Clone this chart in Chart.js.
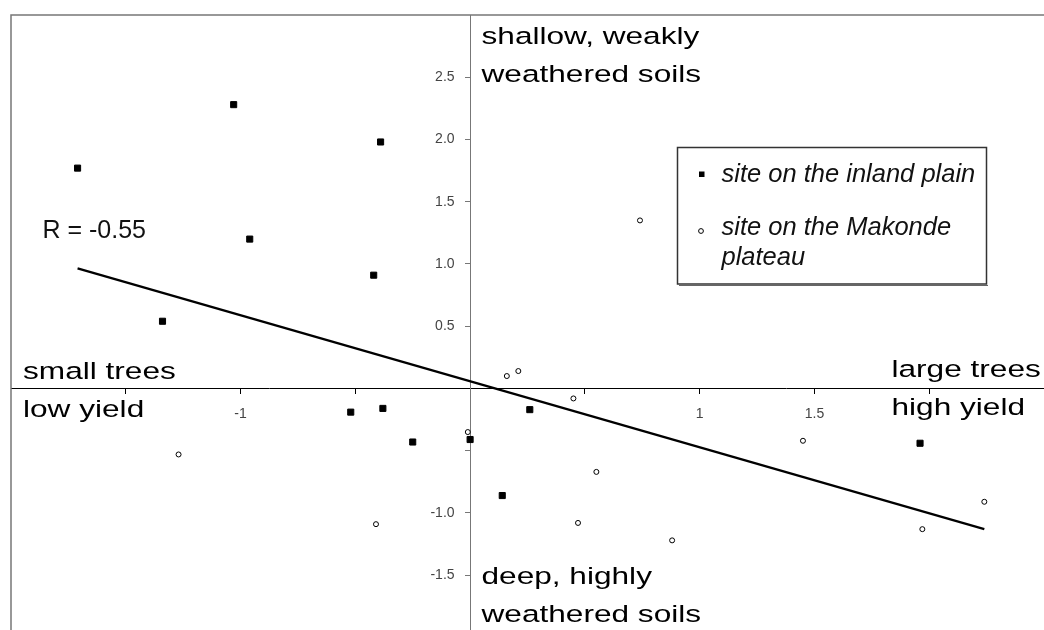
<!DOCTYPE html>
<html>
<head>
<meta charset="utf-8">
<script src="https://cdn.jsdelivr.net/npm/chart.js@4/dist/chart.umd.min.js"></script>
<style>
  html, body { margin: 0; padding: 0; background: #fff; }
  canvas { display: block; }
</style>
</head>
<body>
<canvas id="chart" width="1044" height="630"></canvas>
<script>
"use strict";

// sites on the inland plain (filled squares)
const inlandX = [-1.71, -1.03, -0.39, -0.96, -0.42, -1.34, -0.52, -0.38, -0.25, 0.00, 0.14, 0.26, 1.96];
const inlandY = [1.77, 2.28, 1.98, 1.20, 0.91, 0.54, -0.19, -0.16, -0.43, -0.41, -0.86, -0.17, -0.44];

// sites on the Makonde plateau (open circles)
const makondeX = [-1.27, -0.41, -0.01, 0.16, 0.21, 0.45, 0.55, 0.47, 0.88, 0.74, 1.45, 1.97, 2.24];
const makondeY = [-0.53, -1.09, -0.35, 0.10, 0.14, -0.08, -0.67, -1.08, -1.22, 1.35, -0.42, -1.13, -0.91];

// regression line, start and end
const trendX = [-1.71, 2.24];
const trendY = [0.965, -1.13];

// legend texts (one entry per series, split in lines)
const seriesNames = [['site on the inland plain'], ['site on the Makonde', 'plateau']];

// axis ticks and the labels that are shown
const xTickValues = [-2, -1.5, -1, -0.5, 0, 0.5, 1, 1.5, 2, 2.5];
const xTickLabels = [null, '', '-1', '', '', '', '1', '1.5', '', null];
const yTickValues = [-1.94, -1.5, -1, -0.5, 0, 0.5, 1, 1.5, 2, 2.5, 3];
const yTickLabels = [null, '-1.5', '-1.0', '', '', '0.5', '1.0', '1.5', '2.0', '2.5', null];

function toPoints(xs, ys) {
	return xs.map((x, i) => ({ x: x, y: ys[i] }));
}

// axes sit inside the plot, so they must not eat space for their labels
function noPadding(scale) {
	scale.paddingTop = 0;
	scale.paddingBottom = 0;
	scale.paddingLeft = 0;
	scale.paddingRight = 0;
}

// frame, captions, R value and the boxed legend
const decorations = {
	id: 'decorations',
	afterDraw(chart) {
		const ctx = chart.ctx;
		const area = chart.chartArea;
		ctx.save();

		// only the left and top edges of the frame are in the picture
		ctx.strokeStyle = '#777';
		ctx.lineWidth = 1.5;
		ctx.beginPath();
		ctx.moveTo(area.left, area.bottom);
		ctx.lineTo(area.left, area.top);
		ctx.lineTo(area.right, area.top);
		ctx.stroke();

		// captions of the four directions (stretched wide like the original)
		ctx.fillStyle = '#000';
		ctx.textBaseline = 'alphabetic';
		ctx.textAlign = 'left';
		ctx.font = '24.5px "Liberation Sans", Arial, sans-serif';
		const wide = (lines, x, y) => {
			lines.forEach((t, i) => {
				ctx.save();
				ctx.translate(x, y + i * 38);
				ctx.scale(1.29, 1);
				ctx.fillText(t, 0, 0);
				ctx.restore();
			});
		};
		wide(['shallow, weakly', 'weathered soils'], 481.5, 44);
		wide(['small trees', 'low yield'], 23, 379);
		wide(['large trees', 'high yield'], 891.5, 377);
		wide(['deep, highly', 'weathered soils'], 481.5, 583.5);

		ctx.fillStyle = '#111';
		ctx.font = '25px "Liberation Sans", Arial, sans-serif';
		ctx.fillText('R = -0.55', 42.5, 238);

		// legend box with its slight shadow
		ctx.strokeStyle = '#333';
		ctx.lineWidth = 1.5;
		ctx.strokeRect(677.5, 147.5, 309, 136.5);
		ctx.strokeStyle = '#666';
		ctx.lineWidth = 1;
		ctx.beginPath();
		ctx.moveTo(679, 285.5);
		ctx.lineTo(988, 285.5);
		ctx.stroke();
		ctx.fillStyle = '#000';
		ctx.fillRect(699, 171.5, 5.5, 5.5);
		ctx.strokeStyle = '#000';
		ctx.beginPath();
		ctx.arc(701, 231, 2.4, 0, Math.PI * 2);
		ctx.stroke();

		ctx.fillStyle = '#111';
		ctx.font = 'italic 25.5px "Liberation Sans", Arial, sans-serif';
		ctx.fillText(seriesNames[0][0], 721.5, 181.5);
		ctx.fillText(seriesNames[1][0], 721.5, 235);
		ctx.fillText(seriesNames[1][1], 721.5, 265);

		ctx.restore();
	}
};

const tickFont = { family: '"Liberation Sans", Arial, sans-serif', size: 14 };

new Chart(document.getElementById('chart').getContext('2d'), {
	type: 'scatter',
	data: {
		datasets: [
			{
				label: seriesNames[0].join(' '),
				data: toPoints(inlandX, inlandY),
				pointStyle: 'rect',
				pointRadius: 4.3,
				borderWidth: 1,
				backgroundColor: '#000',
				borderColor: '#000'
			},
			{
				label: seriesNames[1].join(' '),
				data: toPoints(makondeX, makondeY),
				pointStyle: 'circle',
				pointRadius: 2.5,
				borderWidth: 1,
				backgroundColor: '#fff',
				borderColor: '#000'
			},
			{
				type: 'line',
				label: 'R = -0.55',
				data: toPoints(trendX, trendY),
				borderColor: '#000',
				borderWidth: 2.2,
				pointRadius: 0,
				fill: false
			}
		]
	},
	options: {
		responsive: false,
		animation: false,
		devicePixelRatio: 1,
		layout: { autoPadding: false, padding: { left: 11, top: 15, right: 0, bottom: 0 } },
		plugins: {
			legend: { display: false },
			tooltip: { enabled: false }
		},
		scales: {
			x: {
				type: 'linear',
				min: -2,
				max: 2.5,
				position: { y: 0 },
				afterBuildTicks: (scale) => { scale.ticks = xTickValues.map(v => ({ value: v })); },
				afterFit: noPadding,
				ticks: {
					autoSkip: false,
					maxRotation: 0,
					callback: (v, i) => xTickLabels[i],
					font: tickFont,
					color: '#444',
					padding: 12
				},
				grid: { drawOnChartArea: false, tickLength: 5, color: '#000' },
				border: { color: '#000', width: 1 }
			},
			y: {
				type: 'linear',
				min: -1.94,
				max: 3,
				position: { x: 0 },
				afterBuildTicks: (scale) => { scale.ticks = yTickValues.map(v => ({ value: v })); },
				afterFit: noPadding,
				ticks: {
					autoSkip: false,
					// labels are right-aligned on the axis line; trailing spaces keep them off it
					callback: (v, i) => yTickLabels[i] === null ? null : yTickLabels[i] + '    ',
					font: tickFont,
					color: '#444'
				},
				grid: { drawOnChartArea: false, tickLength: 5, color: '#777' },
				border: { color: '#777', width: 1 }
			}
		}
	},
	plugins: [decorations]
});
</script>
</body>
</html>
